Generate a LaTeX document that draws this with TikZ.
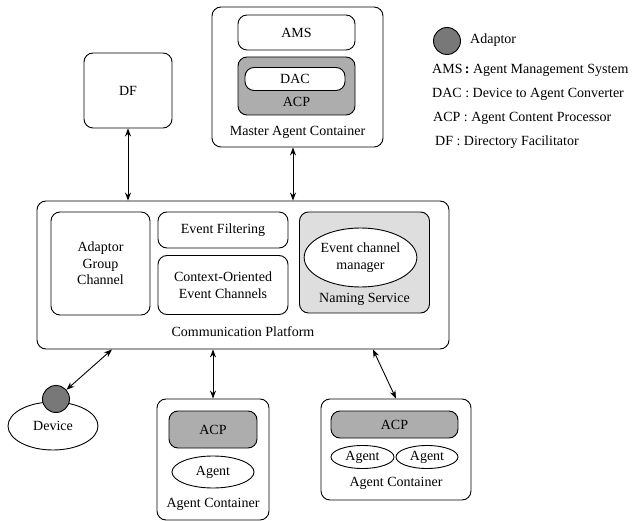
\documentclass[tikz,border=0pt]{standalone}
\usepackage{fontspec}
\setmainfont{Liberation Serif}
\usetikzlibrary{arrows.meta,shapes.geometric}
\definecolor{acpgray}{gray}{0.68}
\definecolor{nsgray}{gray}{0.87}
\definecolor{adgray}{gray}{0.47}
\begin{document}
\begin{tikzpicture}[x=1pt,y=-1pt,
  every node/.style={font=\fontsize{14}{16.5}\selectfont, inner sep=0pt, align=center},
  box/.style={draw, line width=0.9pt, rectangle, rounded corners=9pt},
  acpbox/.style={box, fill=acpgray},
  oval/.style={draw, line width=0.9pt, ellipse, fill=white},
  adaptor/.style={draw, line width=0.9pt, circle, fill=adgray, minimum size=27pt},
  arr/.style={line width=0.9pt, {Stealth[length=8pt,width=6pt]}-{Stealth[length=8pt,width=6pt]}},
  lbl/.style={anchor=west}]
\useasboundingbox (0,0) rectangle (640,521);

% Master Agent Container
\node[box, minimum width=171pt, minimum height=140pt] (master) at (297.5,77) {};
\node[box, minimum width=117pt, minimum height=35pt] (ams) at (296.5,32.5) {AMS};
\node[acpbox, minimum width=117pt, minimum height=58pt] (macp) at (296.5,86) {};
\node[box, fill=white, minimum width=100pt, minimum height=23pt] (dac) at (295,79) {DAC};
\node (macpt) at (296.5,102) {ACP};
\node (mastert) at (297.5,132) {Master Agent Container};

% DF
\node[box, minimum width=88pt, minimum height=75pt] (df) at (128,90.5) {DF};

% Communication Platform
\node[box, minimum width=412pt, minimum height=148pt] (cp) at (243,275) {};
\node[box, minimum width=99pt, minimum height=103pt] (agc) at (100.5,263.5) {Adaptor\\Group\\Channel};
\node[box, minimum width=130pt, minimum height=36pt] (ef) at (223,230) {Event Filtering};
\node[box, minimum width=130pt, minimum height=59pt] (coec) at (223,285) {Context-Oriented\\Event Channels};
\node[box, fill=nsgray, minimum width=130pt, minimum height=101pt] (ns) at (364.5,262.5) {};
\node[oval, minimum width=105pt, minimum height=59pt] (ecm) at (360.5,257.5) {Event channel\\manager};
\node (nst) at (364.5,299) {Naming Service};
\node (cpt) at (243,332) {Communication Platform};

% Device
\node[oval, minimum width=90pt, minimum height=48pt] (dev) at (53,426) {Device};
\node[adaptor] (ad) at (56,399) {};

% Left Agent Container
\node[box, minimum width=112pt, minimum height=121pt] (ac1) at (213,459.5) {};
\node[acpbox, minimum width=88pt, minimum height=37pt] (acp1) at (213,429.5) {ACP};
\node[oval, minimum width=82pt, minimum height=32pt] (ag1) at (213,472) {Agent};
\node (ac1t) at (213,504) {Agent Container};

% Right Agent Container
\node[box, minimum width=150pt, minimum height=101pt] (ac2) at (396,449.5) {};
\node[acpbox, minimum width=127pt, minimum height=27pt] (acp2) at (394.5,424.5) {ACP};
\node[oval, minimum width=63pt, minimum height=23pt] (ag2) at (362.5,457) {Agent};
\node[oval, minimum width=62pt, minimum height=23pt] (ag3) at (427,457) {Agent};
\node (ac2t) at (396,483) {Agent Container};

% Connectors
\draw[arr] (df.south) -- (df.south |- cp.north);
\draw[arr] ([xshift=-4.5pt]master.south) -- ([xshift=-4.5pt]master.south |- cp.north);
\draw[arr] ([xshift=-131pt]cp.south) -- (ad);
\draw[arr] (ac1.north |- cp.south) -- (ac1.north);
\draw[arr] ([xshift=130pt]cp.south) -- (ac2.north);

% Legend
\node[adaptor] (lad) at (447,41) {};
\node[lbl] (ladt) at (470,40) {Adaptor};
\node[lbl] (l1) at (432,70) {AMS\,\textbf{:} Agent Management System};
\node[lbl] (l2) at (432,94) {DAC : Device to Agent Converter};
\node[lbl] (l3) at (433,118) {ACP : Agent Content Processor};
\node[lbl] (l4) at (435,142) {DF : Directory Facilitator};
\end{tikzpicture}
\end{document}
